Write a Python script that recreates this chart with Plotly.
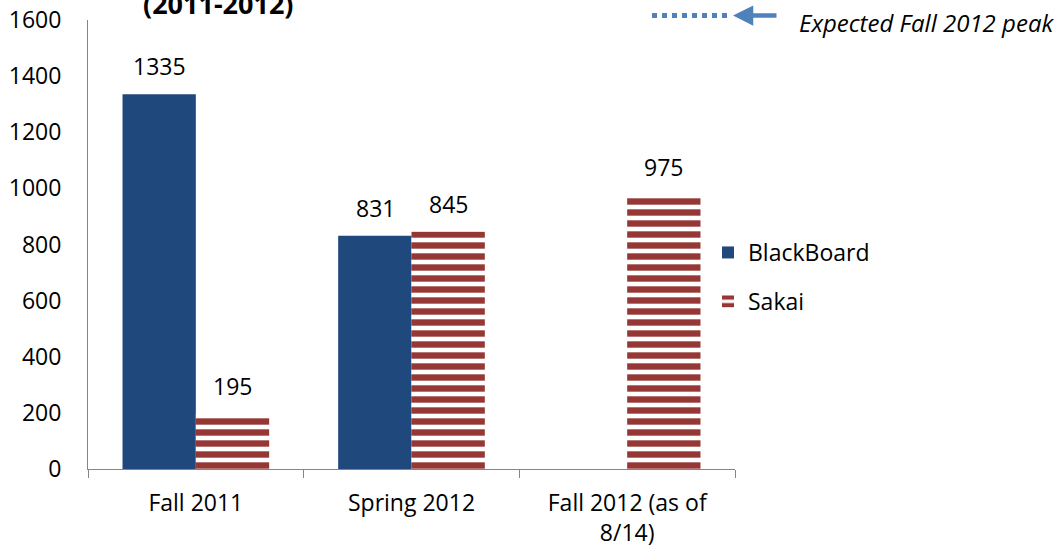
import plotly.graph_objects as go

categories = ["Fall 2011", "Spring 2012", "Fall 2012 (as of<br>8/14)"]
blackboard = [1335, 831, None]
sakai = [195, 845, 975]
y_ticks = [0, 200, 400, 600, 800, 1000, 1200, 1400, 1600]

FONT = "'Open Sans', Lato, sans-serif"
BLUE = "#1F497D"
RED = "#953735"
ARROW = "#4F81BD"
FS = 23

fig = go.Figure()
fig.add_trace(go.Bar(
    name="BlackBoard", x=categories, y=blackboard,
    marker=dict(color=BLUE, line=dict(width=0)),
    legendgroup="a",
))
fig.add_trace(go.Bar(
    name="Sakai", x=categories, y=sakai,
    marker=dict(color=RED, line=dict(width=0),
                pattern=dict(shape="-", fgcolor=RED, bgcolor="white",
                             size=11, solidity=0.58, fillmode="replace")),
    legendgroup="b",
))

# data labels
for vals, shift in ((blackboard, -36.5), (sakai, 36.5)):
    for c, v in zip(categories, vals):
        if v is None:
            continue
        fig.add_annotation(x=c, y=v, text=str(v), showarrow=False,
                           xref="x", yref="y", xshift=shift, yshift=28,
                           font=dict(family=FONT, size=FS, color="#000"))

# title remnant (cut at top, as in the reference)
fig.add_annotation(text="<b>(2011-2012)</b>", xref="paper", yref="paper",
                   x=(218 - 88) / 647, y=1 + (20 - 4) / 449,
                   showarrow=False, yanchor="middle", xanchor="center",
                   font=dict(family=FONT, size=27, color="#000"))

# expected peak note
fig.add_shape(type="line", xref="paper", yref="paper",
              x0=(652 - 88) / 647, x1=(731 - 88) / 647,
              y0=1 + (20 - 15.5) / 449, y1=1 + (20 - 15.5) / 449,
              line=dict(color=ARROW, width=5, dash="5px,5px"))
fig.add_annotation(xref="paper", yref="paper",
                   x=(733 - 88) / 647, y=1 + (20 - 15.5) / 449,
                   ax=45, ay=0, axref="pixel", ayref="pixel",
                   text="", showarrow=True, arrowhead=2, arrowsize=0.9,
                   arrowwidth=4.5, arrowcolor=ARROW)
fig.add_annotation(xref="paper", yref="paper",
                   x=(797 - 88) / 647, y=1 + (20 - 23) / 449,
                   text="<i>Expected Fall 2012 peak</i>", showarrow=False,
                   xanchor="left", yanchor="middle",
                   font=dict(family=FONT, size=24, color="#000"))

fig.update_layout(
    width=1061, height=550,
    margin=dict(l=88, r=326, t=20, b=81, autoexpand=False),
    paper_bgcolor="white", plot_bgcolor="white",
    barmode="group", bargap=0.32, bargroupgap=0,
    font=dict(family=FONT, size=FS, color="#000"),
    showlegend=True,
    legend=dict(x=(708 - 88) / 647, y=(469 - 277) / 449,
                xanchor="left", yanchor="middle",
                font=dict(family=FONT, size=FS),
                tracegroupgap=16, itemwidth=30,
                bgcolor="rgba(0,0,0,0)"),
)
fig.update_xaxes(showline=True, linecolor="#868686", linewidth=1,
                 ticks="outside", tickson="boundaries", ticklen=8,
                 tickcolor="#868686", showgrid=False, automargin=False,
                 ticklabelstandoff=13,
                 tickfont=dict(family=FONT, size=FS))
fig.update_yaxes(range=[0, 1600], tickvals=y_ticks, showline=True,
                 linecolor="#868686", linewidth=1, showgrid=False,
                 zeroline=False, ticks="", ticklabelstandoff=21,
                 automargin=False,
                 tickfont=dict(family=FONT, size=FS))

fig.write_html("out.html", config={"displayModeBar": False},
               post_script="document.body.style.margin='0';document.body.style.overflow='hidden';")
